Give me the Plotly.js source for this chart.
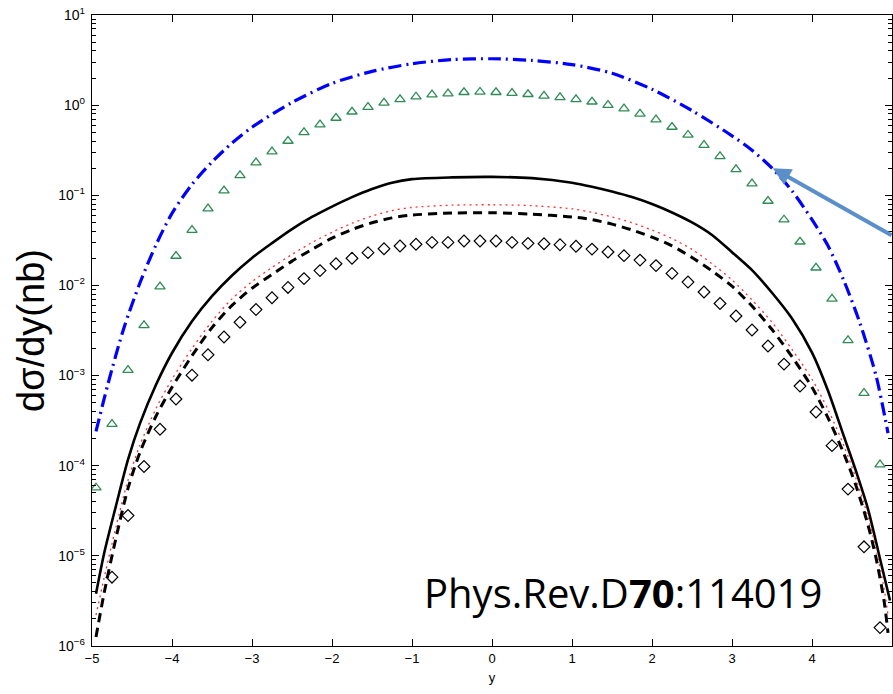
<!DOCTYPE html>
<html>
<head>
<meta charset="utf-8">
<script src="https://cdn.plot.ly/plotly-3.0.1.min.js"></script>
<style>
html,body{margin:0;padding:0;background:#fff;}
#chart{width:893px;height:694px;}
</style>
</head>
<body>
<div id="chart"></div>
<script>
// ---- data ----
var blueX = [-4.95,-4.8,-4.6,-4.4,-4.2,-4.0,-3.75,-3.5,-3.25,-3.0,-2.5,-2.0,-1.5,-1.0,-0.5,0,0.5,1.0,1.5,2.0,2.5,3.0,3.25,3.5,3.75,4.0,4.2,4.4,4.6,4.8,4.95];
var blueY = [2.4e-4,8.1e-4,3.4e-3,0.0107,0.0282,0.063,0.132,0.234,0.38,0.569,1.07,1.74,2.37,2.88,3.2,3.27,3.13,2.82,2.26,1.5,0.87,0.457,0.316,0.2,0.112,0.0537,0.0275,0.0112,3.8e-3,1.0e-3,2.3e-4];

var solidX = [-4.95,-4.85,-4.7,-4.55,-4.4,-4.2,-4.0,-3.75,-3.5,-3.25,-3.0,-2.75,-2.5,-2.25,-2.0,-1.75,-1.5,-1.25,-1.0,-0.5,0,0.5,1.0,1.25,1.5,1.75,2.0,2.25,2.5,2.75,3.0,3.25,3.5,3.75,4.0,4.2,4.4,4.55,4.7,4.85,4.975];
var solidY = [3.8e-6,1.05e-5,3.6e-5,1.17e-4,2.95e-4,7.9e-4,1.78e-3,4.0e-3,7.6e-3,0.0129,0.0202,0.0295,0.0422,0.0575,0.075,0.0955,0.1175,0.138,0.151,0.158,0.160,0.155,0.138,0.1245,0.110,0.0955,0.080,0.0645,0.050,0.0363,0.0234,0.0148,8.3e-3,4.3e-3,1.8e-3,6.8e-4,2.1e-4,8.7e-5,3.3e-5,9.3e-6,3.2e-6];

var dashX = [-4.95,-4.85,-4.7,-4.55,-4.4,-4.2,-4.0,-3.75,-3.5,-3.25,-3.0,-2.75,-2.5,-2.25,-2.0,-1.75,-1.5,-1.25,-1.0,-0.5,0,0.5,1.0,1.25,1.5,1.75,2.0,2.25,2.5,2.75,3.0,3.25,3.5,3.75,4.0,4.2,4.4,4.55,4.7,4.8,4.9,4.95];
var dashY = [1.26e-6,3.8e-6,1.58e-5,5.6e-5,1.41e-4,3.55e-4,7.4e-4,1.66e-3,3.4e-3,6.0e-3,9.3e-3,0.0132,0.0186,0.0251,0.0335,0.0417,0.0495,0.0562,0.0603,0.0635,0.0641,0.0617,0.0575,0.0537,0.0479,0.0412,0.0343,0.0275,0.0204,0.0145,9.8e-3,5.9e-3,3.24e-3,1.62e-3,7.4e-4,3.4e-4,1.35e-4,6.0e-5,2.2e-5,9.5e-6,3.2e-6,1.4e-6];

var dotX = [-4.95,-4.85,-4.7,-4.55,-4.4,-4.2,-4.0,-3.75,-3.5,-3.25,-3.0,-2.75,-2.5,-2.25,-2.0,-1.75,-1.5,-1.25,-1.0,-0.5,0,0.5,1.0,1.25,1.5,1.75,2.0,2.25,2.5,2.75,3.0,3.25,3.5,3.75,4.0,4.2,4.4,4.55,4.7,4.8,4.9,4.95];
var dotY = [2.2e-6,5.6e-6,2.1e-5,6.9e-5,1.7e-4,4.3e-4,9.1e-4,2.0e-3,4.0e-3,7.1e-3,0.011,0.0158,0.0221,0.0299,0.0389,0.049,0.0589,0.0676,0.0733,0.0776,0.0785,0.0767,0.0708,0.0646,0.0575,0.0495,0.0412,0.0331,0.0251,0.0174,0.0115,6.9e-3,3.9e-3,1.95e-3,9.1e-4,4.2e-4,1.66e-4,7.2e-5,2.7e-5,1.2e-5,4.4e-6,2.2e-6];

var triX = [-4.95,-4.75,-4.55,-4.35,-4.15,-3.95,-3.75,-3.55,-3.35,-3.15,-2.95,-2.75,-2.55,-2.35,-2.15,-1.95,-1.75,-1.55,-1.35,-1.15,-0.95,-0.75,-0.55,-0.35,-0.15,0.05,0.25,0.45,0.65,0.85,1.05,1.25,1.45,1.65,1.85,2.05,2.25,2.45,2.65,2.85,3.05,3.25,3.45,3.65,3.85,4.05,4.25,4.45,4.65,4.85];
var triY = [5.7e-5,2.9e-4,1.15e-3,3.6e-3,9.7e-3,0.0212,0.041,0.071,0.1125,0.166,0.23,0.305,0.40,0.50,0.607,0.72,0.845,0.95,1.06,1.16,1.24,1.31,1.34,1.39,1.40,1.39,1.36,1.32,1.27,1.22,1.16,1.09,1.0,0.914,0.80,0.69,0.572,0.467,0.361,0.27,0.194,0.1346,0.0864,0.0536,0.0305,0.0157,0.0071,2.46e-3,6.4e-4,1.03e-4];

var diaX = [-4.75,-4.55,-4.35,-4.15,-3.95,-3.75,-3.55,-3.35,-3.15,-2.95,-2.75,-2.55,-2.35,-2.15,-1.95,-1.75,-1.55,-1.35,-1.15,-0.95,-0.75,-0.55,-0.35,-0.15,0.05,0.25,0.45,0.65,0.85,1.05,1.25,1.45,1.65,1.85,2.05,2.25,2.45,2.65,2.85,3.05,3.25,3.45,3.65,3.85,4.05,4.25,4.45,4.65,4.85];
var diaY = [5.8e-6,2.8e-5,9.8e-5,2.54e-4,5.5e-4,1.01e-3,1.7e-3,2.68e-3,3.9e-3,5.4e-3,7.3e-3,9.5e-3,0.0119,0.0146,0.0174,0.020,0.0231,0.0255,0.0274,0.0286,0.030,0.030,0.0311,0.0311,0.0311,0.030,0.0293,0.029,0.0283,0.0272,0.0253,0.0235,0.0214,0.0191,0.0166,0.0136,0.0109,8.45e-3,6.3e-3,4.58e-3,3.2e-3,2.13e-3,1.34e-3,7.65e-4,3.94e-4,1.67e-4,5.5e-5,1.26e-5,1.6e-6];

var xTickVals = [-5,-4,-3,-2,-1,0,1,2,3,4,5];
var yExponents = [-6,-5,-4,-3,-2,-1,0,1];
var yTitle = 'dσ/dy(nb)';
var xTitle = 'y';
var refText = 'Phys.Rev.D<b>70</b>:114019';
var arrowTip = {x: 3.51, y: 0.2};

var traces = [
  {x: blueX, y: blueY, mode: 'lines', line: {color: '#0000ff', width: 3.2, dash: '13px,5px,2px,5px', shape: 'spline', smoothing: 0.8}},
  {x: solidX, y: solidY, mode: 'lines', line: {color: '#000000', width: 2.6, shape: 'spline', smoothing: 0.8}},
  {x: dotX, y: dotY, mode: 'lines', line: {color: '#ff3030', width: 1.3, dash: '2px,4px', shape: 'spline', smoothing: 0.8}},
  {x: dashX, y: dashY, mode: 'lines', line: {color: '#000000', width: 3, dash: '9px,6px', shape: 'spline', smoothing: 0.8}},
  {x: triX, y: triY, mode: 'markers', marker: {symbol: 'triangle-up-open', size: 9, color: '#2e8b57', line: {width: 1.3, color: '#2e8b57'}}},
  {x: diaX, y: diaY, mode: 'markers', marker: {symbol: 'diamond-open', size: 9, color: '#000000', line: {width: 1.2, color: '#000000'}}}
];

var axisCommon = {
  showgrid: false, zeroline: false, showline: true, linecolor: '#000', linewidth: 1.2,
  mirror: 'ticks', ticks: 'inside', tickcolor: '#000', tickwidth: 1, ticklen: 7
};

var layout = {
  width: 893, height: 694,
  margin: {l: 92, r: 1, t: 15, b: 48},
  paper_bgcolor: '#fff', plot_bgcolor: '#fff',
  showlegend: false,
  xaxis: Object.assign({}, axisCommon, {
    range: [-5, 5], tickvals: xTickVals,
    ticktext: xTickVals.map(function(v){return v < 0 ? '\u2212' + Math.abs(v) : String(v);}),
    tickfont: {family: 'Liberation Sans, Arial, sans-serif', size: 13, color: '#000'},
    title: {text: xTitle, font: {family: 'Liberation Sans, Arial, sans-serif', size: 13, color: '#000'}, standoff: 8}
  }),
  yaxis: Object.assign({}, axisCommon, {
    type: 'log', range: [-6, 1],
    tickvals: yExponents.map(function(e){return Math.pow(10, e);}),
    ticktext: yExponents.map(function(e){return '10<sup>' + (e < 0 ? '\u2212' + Math.abs(e) : e) + '</sup>';}),
    tickfont: {family: 'Liberation Sans, Arial, sans-serif', size: 14, color: '#000'},
    ticklabelstandoff: 3,
    minor: {ticks: 'inside', ticklen: 4, tickcolor: '#000', dtick: 'D1', showgrid: false},
    title: {text: yTitle, font: {family: 'Liberation Sans, Arial, sans-serif', size: 38, color: '#000'}, standoff: 2}
  }),
  annotations: [
    {xref: 'paper', yref: 'paper', x: 0.4125, y: 0.085, xanchor: 'left', yanchor: 'middle',
     text: refText, showarrow: false,
     font: {family: 'Open Sans, sans-serif', size: 40, color: '#000'}},
    {xref: 'x', yref: 'y', x: arrowTip.x, y: Math.log10(arrowTip.y), text: '', showarrow: true,
     arrowhead: 2, arrowsize: 0.9, arrowwidth: 4, arrowcolor: '#5b8fc9', ax: 132, ay: 68}
  ]
};

Plotly.newPlot('chart', traces, layout, {displayModeBar: false, staticPlot: true});
</script>
</body>
</html>
